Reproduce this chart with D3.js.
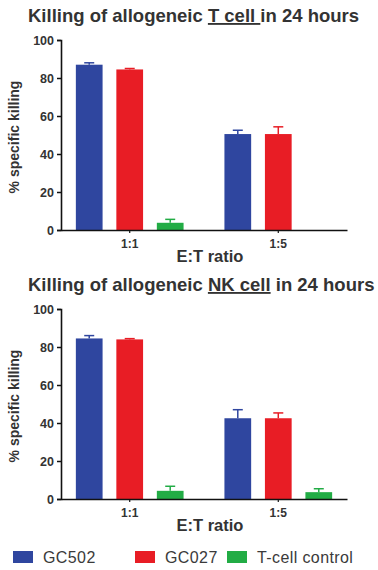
<!DOCTYPE html>
<html>
<head>
<meta charset="utf-8">
<script src="https://cdn.jsdelivr.net/npm/d3@7/dist/d3.min.js"></script>
<style>
  body { margin: 0; background: #fff; }
  text { font-family: "Liberation Sans", Arial, sans-serif; }
</style>
</head>
<body>
<div id="chart"></div>
<script>
// categories and series
const ratios = ["1:1", "1:5"];
const series = ["GC502", "GC027", "T-cell control"];
const colors = ["#2f469f", "#e81d25", "#22ac45"];
const yTicks = [0, 20, 40, 60, 80, 100];

// T cell panel: means and upper error (SEM)
const tcellMeans = [[87, 84.5, 3.8], [50.5, 50.5, 0]];
const tcellErr   = [[1, 0.5, 1.8], [2, 3.8, 0]];

// NK cell panel
const nkMeans = [[84.5, 84, 4.3], [42.5, 42.5, 3.6]];
const nkErr   = [[1.5, 0.4, 2.4], [4.5, 2.8, 1.8]];

const w = 378, h = 570;

const svg = d3.select("#chart")
  .append("svg")
  .attr("width", w)
  .attr("height", h);

// shared x scales
const x0 = d3.scaleBand()
  .domain(ratios)
  .range([61, 347])
  .paddingInner(0.275)
  .paddingOuter(0.1);

const x1 = d3.scaleBand()
  .domain(series)
  .range([0, x0.bandwidth()])
  .paddingInner(0.34);

const drawPanel = (top, before, under, after, means, errs) => {
  const g = svg.append("g").attr("transform", `translate(0, ${top})`);

  // title with underlined part
  const t = g.append("text")
    .attr("x", 28)
    .attr("y", 22)
    .attr("font-size", 18.5)
    .attr("font-weight", "bold")
    .attr("fill", "#333");
  t.append("tspan").text(before);
  t.append("tspan").attr("text-decoration", "underline").text(under);
  t.append("tspan").text(after);

  const y = d3.scaleLinear().domain([0, 100]).range([230, 40]);

  // bars
  ratios.forEach((r, i) => {
    series.forEach((s, j) => {
      const bx = x0(r) + x1(s);
      const v = means[i][j];
      const e = errs[i][j];
      const cx = bx + x1.bandwidth() / 2;
      if (e > 0) {
        g.append("line")
          .attr("x1", cx).attr("x2", cx)
          .attr("y1", y(v)).attr("y2", y(v + e))
          .attr("stroke", colors[j]).attr("stroke-width", 1.5);
        g.append("line")
          .attr("x1", cx - 5).attr("x2", cx + 5)
          .attr("y1", y(v + e)).attr("y2", y(v + e))
          .attr("stroke", colors[j]).attr("stroke-width", 1.5);
      }
      g.append("rect")
        .attr("x", bx)
        .attr("y", y(v))
        .attr("width", x1.bandwidth())
        .attr("height", y(0) - y(v))
        .attr("fill", colors[j]);
    });
  });

  // y axis
  const ya = g.append("g")
    .attr("transform", "translate(61, 0)")
    .call(d3.axisLeft(y).tickValues(yTicks).tickSize(4).tickPadding(3));
  ya.select(".domain").attr("stroke", "#111").attr("stroke-width", 1.6);
  ya.selectAll(".tick line").attr("stroke", "#111").attr("stroke-width", 1.5);
  ya.selectAll(".tick text")
    .attr("font-size", 12.5)
    .attr("font-weight", "bold")
    .attr("fill", "#333")
    .style("font-family", "'Liberation Sans', Arial, sans-serif");

  // x axis
  const xa = g.append("g")
    .attr("transform", "translate(0, 230)")
    .call(d3.axisBottom(x0).tickSize(3).tickSizeOuter(0).tickPadding(4));
  xa.select(".domain").attr("stroke", "#111").attr("stroke-width", 1.6);
  xa.selectAll(".tick line").attr("stroke", "#111").attr("stroke-width", 1.2);
  xa.selectAll(".tick text")
    .attr("font-size", 12)
    .attr("font-weight", "bold")
    .attr("fill", "#333")
    .attr("dy", "0.9em")
    .style("font-family", "'Liberation Sans', Arial, sans-serif");

  // axis titles
  g.append("text")
    .attr("x", 210)
    .attr("y", 262)
    .attr("text-anchor", "middle")
    .attr("font-size", 16.5)
    .attr("font-weight", "bold")
    .attr("fill", "#333")
    .text("E:T ratio");

  g.append("text")
    .attr("transform", "translate(19, 137) rotate(-90)")
    .attr("text-anchor", "middle")
    .attr("font-size", 14)
    .attr("font-weight", "bold")
    .attr("fill", "#333")
    .text("% specific killing");
};

drawPanel(0, "Killing of allogeneic ", "T cell ", "in 24 hours", tcellMeans, tcellErr);
drawPanel(269, "Killing of allogeneic ", "NK cell", " in 24 hours", nkMeans, nkErr);

// legend
const legendX = [13, 135, 227];
const legend = svg.append("g").attr("transform", "translate(0, 551)");
series.forEach((s, i) => {
  legend.append("rect")
    .attr("x", legendX[i])
    .attr("y", 0)
    .attr("width", 20)
    .attr("height", 12)
    .attr("fill", colors[i]);
  legend.append("text")
    .attr("x", legendX[i] + 30)
    .attr("y", 12)
    .attr("font-size", 16)
    .attr("letter-spacing", 0.4)
    .attr("fill", "#3a3a3a")
    .text(s);
});
</script>
</body>
</html>
